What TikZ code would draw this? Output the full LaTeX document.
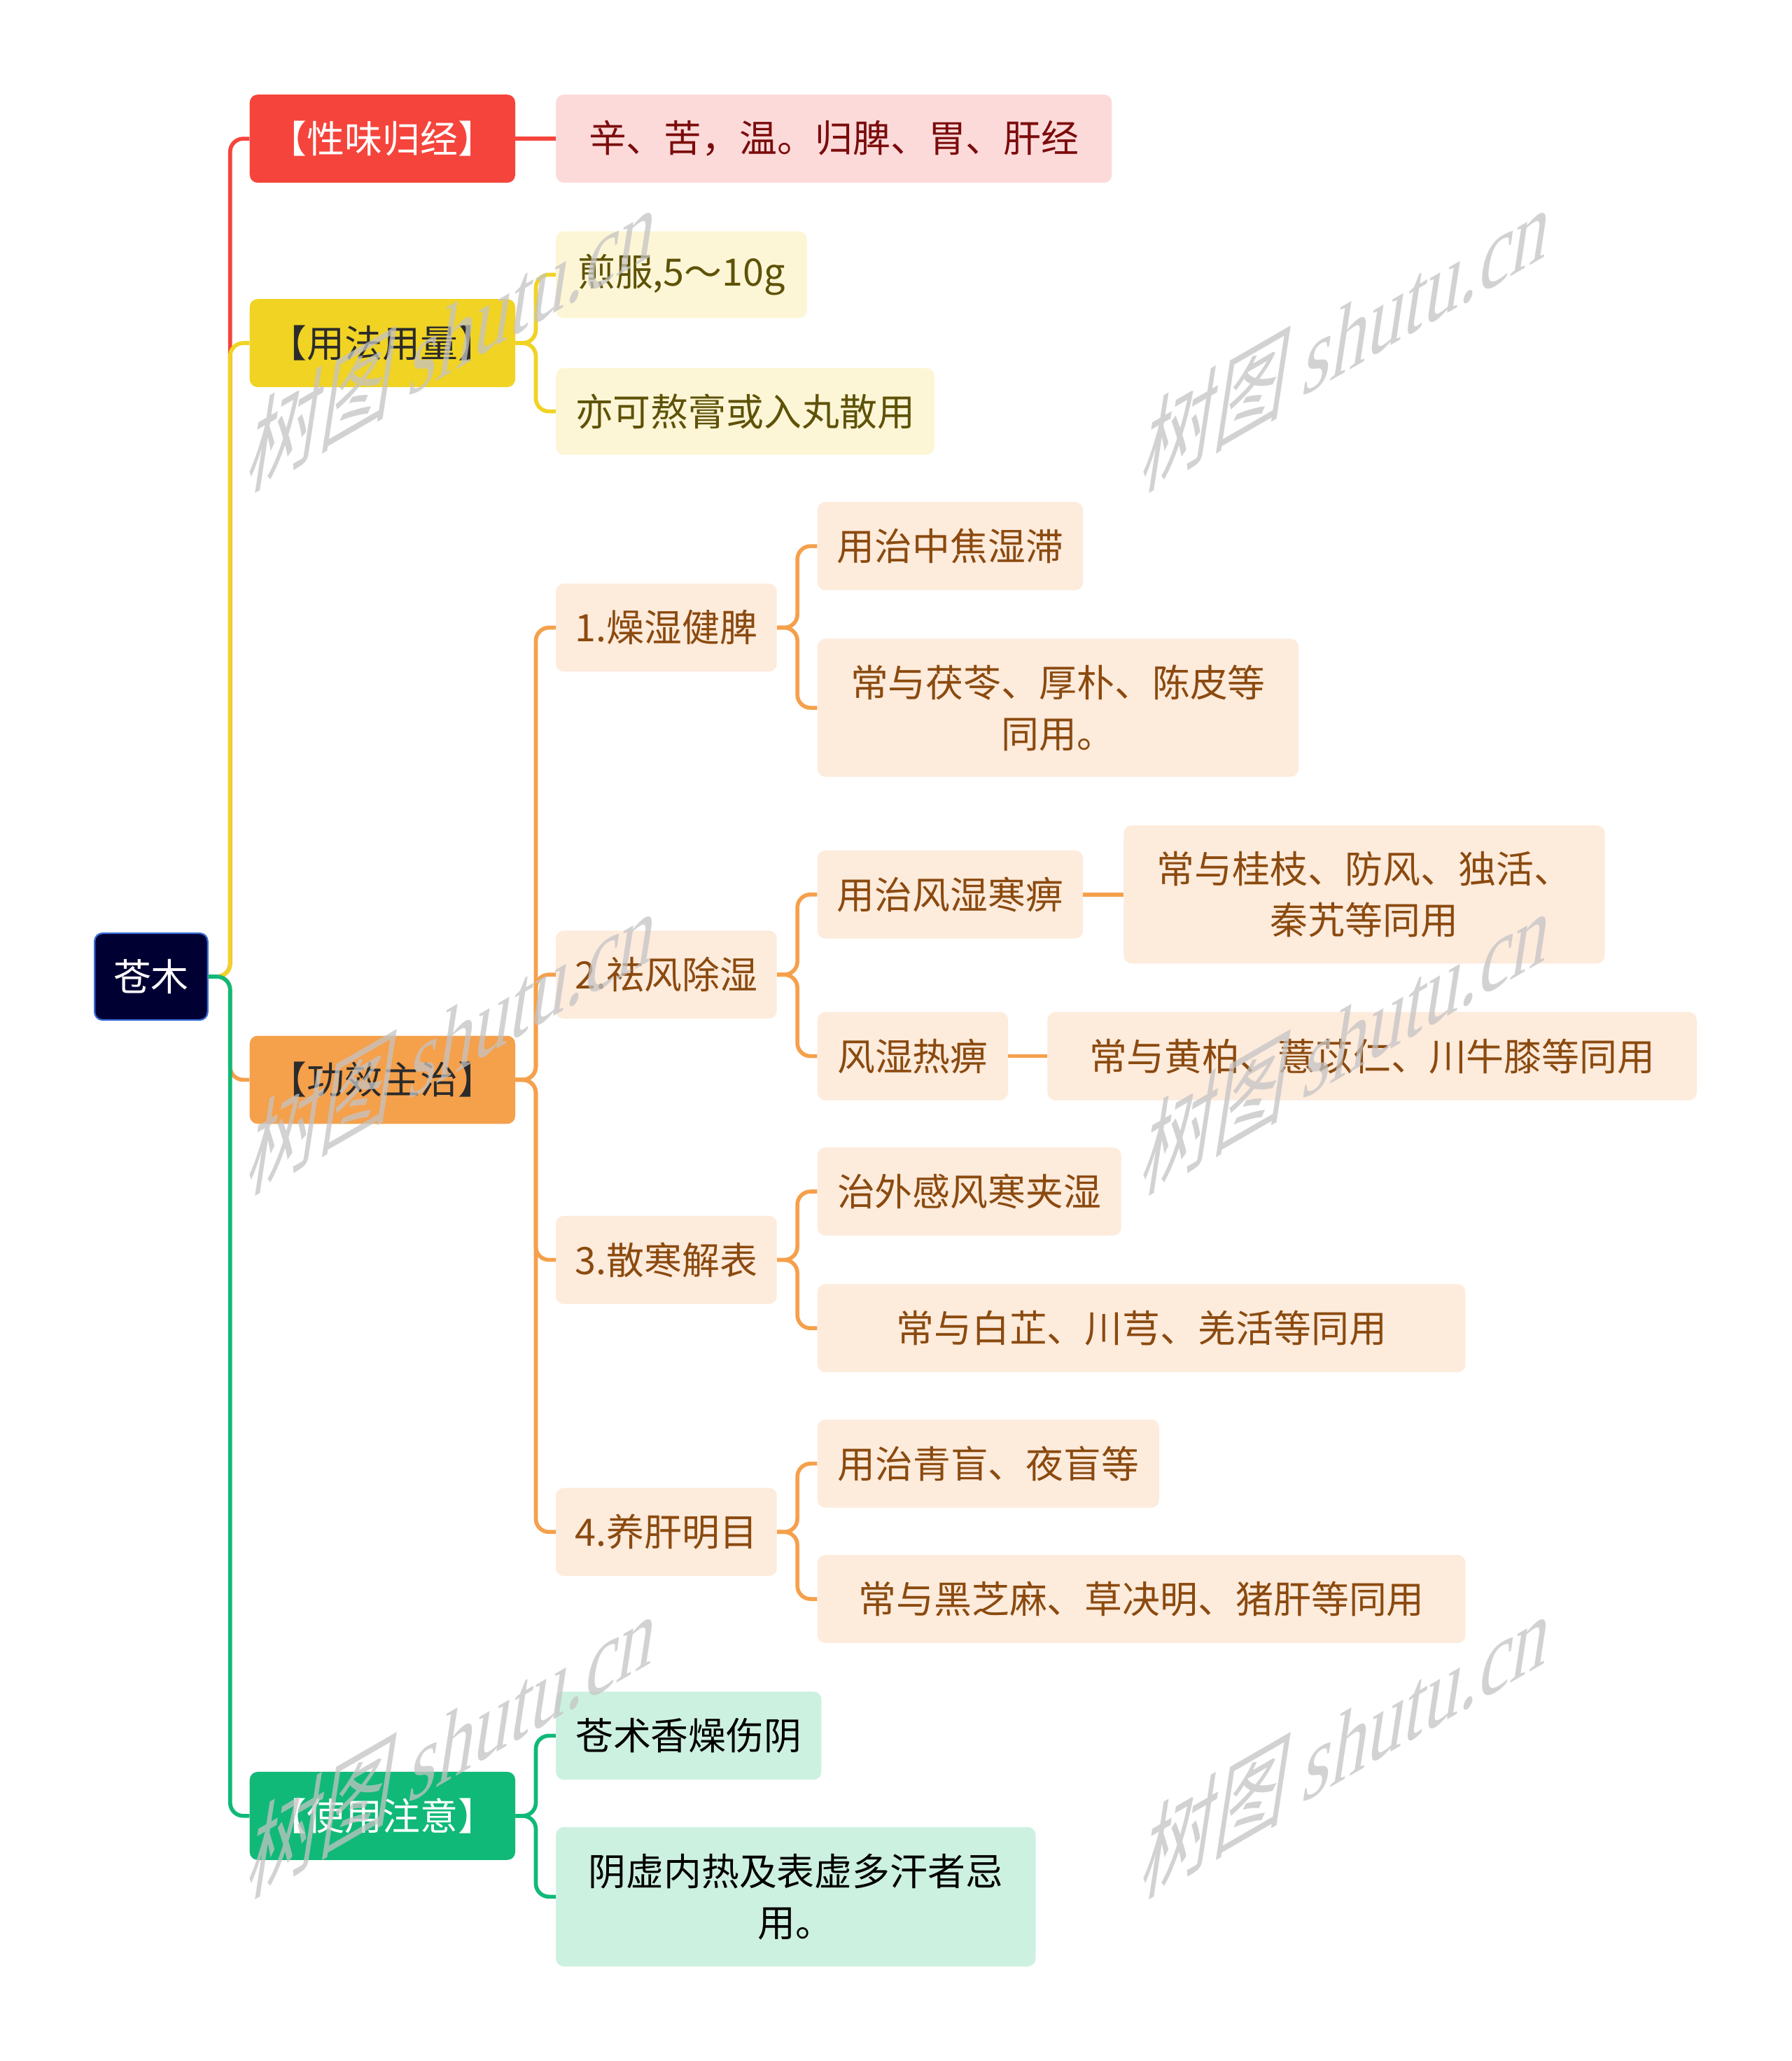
\documentclass[tikz,border=0pt]{standalone}
\usepackage{fontspec}
\setmainfont{Noto Sans CJK SC}
\newfontfamily\wmserif{Liberation Serif}
\definecolor{cred}{HTML}{F5443C}
\definecolor{cyel}{HTML}{F0D323}
\definecolor{corg}{HTML}{F5A04B}
\definecolor{cgrn}{HTML}{10B978}
\definecolor{fred}{HTML}{FDDADA}
\definecolor{fyel}{HTML}{FDF6D6}
\definecolor{forg}{HTML}{FDEBDC}
\definecolor{fgrn}{HTML}{CDF1E1}
\definecolor{tred}{HTML}{7B0C0C}
\definecolor{tyel}{HTML}{5E5208}
\definecolor{torg}{HTML}{8B4A0F}
\definecolor{tdark}{HTML}{2B2B2B}
\definecolor{rootfill}{HTML}{000033}
\definecolor{rootline}{HTML}{3A6FD8}
\definecolor{wmgray}{HTML}{C4C4C4}
\begin{document}
\begin{tikzpicture}[x=1pt,y=-1pt,
  nd/.style={rounded corners=6pt, inner sep=0pt, align=center,
    font=\fontsize{28.7}{39}\selectfont},
  conn/.style={line width=3pt, rounded corners=10pt},
  wm/.style={anchor=base west, inner sep=0pt, rotate=30, xslant=0.8,
    transform shape, text=wmgray, text opacity=0.75,
    font=\fontsize{64}{64}\selectfont}]
\fill[white] (0,0) rectangle (1363,1568);
\useasboundingbox (0,0) rectangle (1363,1568);

% root
\node[nd, fill=rootfill, draw=rootline, line width=1.2pt, text=white,
  minimum width=86pt, minimum height=66pt] (root) at (115,743) {苍木};

% level 1
\node[nd, fill=cred, text=white, minimum width=202pt, minimum height=67pt] (a) at (291,105.5) {【性味归经】};
\node[nd, fill=cyel, text=tdark, minimum width=202pt, minimum height=67pt] (b) at (291,261) {【用法用量】};
\node[nd, fill=corg, text=tdark, minimum width=202pt, minimum height=67pt] (c) at (291,821.5) {【功效主治】};
\node[nd, fill=cgrn, text=white, minimum width=202pt, minimum height=67pt] (d) at (291,1381.5) {【使用注意】};

% level 2
\node[nd, fill=fred, text=tred, minimum width=423pt, minimum height=67pt] (a1) at (634.5,105.5) {辛、苦，温。归脾、胃、肝经};
\node[nd, fill=fyel, text=tyel, minimum width=191pt, minimum height=66pt] (b1) at (518.5,209) {煎服,5～10g};
\node[nd, fill=fyel, text=tyel, minimum width=288pt, minimum height=66pt] (b2) at (567,313) {亦可熬膏或入丸散用};
\node[nd, fill=forg, text=torg, minimum width=168pt, minimum height=67pt] (c1) at (507,477.5) {1.燥湿健脾};
\node[nd, fill=forg, text=torg, minimum width=168pt, minimum height=67pt] (c2) at (507,741.5) {2.祛风除湿};
\node[nd, fill=forg, text=torg, minimum width=168pt, minimum height=67pt] (c3) at (507,958.5) {3.散寒解表};
\node[nd, fill=forg, text=torg, minimum width=168pt, minimum height=67pt] (c4) at (507,1165.5) {4.养肝明目};
\node[nd, fill=fgrn, text=black, minimum width=202pt, minimum height=67pt] (d1) at (524,1320.5) {苍术香燥伤阴};
\node[nd, fill=fgrn, text=black, minimum width=365pt, minimum height=106pt] (d2) at (605.5,1443) {阴虚内热及表虚多汗者忌\\用。};

% level 3
\node[nd, fill=forg, text=torg, minimum width=202pt, minimum height=67pt] (c11) at (723,415.5) {用治中焦湿滞};
\node[nd, fill=forg, text=torg, minimum width=366pt, minimum height=105pt] (c12) at (805,538.5) {常与茯苓、厚朴、陈皮等\\同用。};
\node[nd, fill=forg, text=torg, minimum width=202pt, minimum height=67pt] (c21) at (723,680.5) {用治风湿寒痹};
\node[nd, fill=forg, text=torg, minimum width=145pt, minimum height=67pt] (c22) at (694.5,803.5) {风湿热痹};
\node[nd, fill=forg, text=torg, minimum width=231pt, minimum height=67pt] (c31) at (737.5,906.5) {治外感风寒夹湿};
\node[nd, fill=forg, text=torg, minimum width=493pt, minimum height=67pt] (c32) at (868.5,1010.5) {常与白芷、川芎、羌活等同用};
\node[nd, fill=forg, text=torg, minimum width=260pt, minimum height=67pt] (c41) at (752,1113.5) {用治青盲、夜盲等};
\node[nd, fill=forg, text=torg, minimum width=493pt, minimum height=67pt] (c42) at (868.5,1216.5) {常与黑芝麻、草决明、猪肝等同用};

% level 4
\node[nd, fill=forg, text=torg, minimum width=366pt, minimum height=105pt] (c211) at (1038,680.5) {常与桂枝、防风、独活、\\秦艽等同用};
\node[nd, fill=forg, text=torg, minimum width=494pt, minimum height=67pt] (c221) at (1044,803.5) {常与黄柏、薏苡仁、川牛膝等同用};

% connectors root -> level 1
\draw[conn, cred] (root.east) -- ++(16.5,0) |- (a.west);
\draw[conn, cyel] (root.east) -- ++(16.5,0) |- (b.west);
\draw[conn, corg] (root.east) -- ++(16.5,0) |- (c.west);
\draw[conn, cgrn] (root.east) -- ++(16.5,0) |- (d.west);

% level 1 -> level 2
\draw[conn, cred] (a.east) -- (a1.west);
\draw[conn, cyel] (b.east) -- ++(15.5,0) |- (b1.west);
\draw[conn, cyel] (b.east) -- ++(15.5,0) |- (b2.west);
\foreach \k in {c1,c2,c3,c4}
  \draw[conn, corg] (c.east) -- ++(15.5,0) |- (\k.west);
\draw[conn, cgrn] (d.east) -- ++(15.5,0) |- (d1.west);
\draw[conn, cgrn] (d.east) -- ++(15.5,0) |- (d2.west);

% level 2 -> level 3
\draw[conn, corg] (c1.east) -- ++(15.5,0) |- (c11.west);
\draw[conn, corg] (c1.east) -- ++(15.5,0) |- (c12.west);
\draw[conn, corg] (c2.east) -- ++(15.5,0) |- (c21.west);
\draw[conn, corg] (c2.east) -- ++(15.5,0) |- (c22.west);
\draw[conn, corg] (c3.east) -- ++(15.5,0) |- (c31.west);
\draw[conn, corg] (c3.east) -- ++(15.5,0) |- (c32.west);
\draw[conn, corg] (c4.east) -- ++(15.5,0) |- (c41.west);
\draw[conn, corg] (c4.east) -- ++(15.5,0) |- (c42.west);

% level 3 -> level 4
\draw[conn, corg] (c21.east) -- (c211.west);
\draw[conn, corg] (c22.east) -- (c221.west);

% watermarks
\node[wm] (wm1) at (186,374) {树图 {\wmserif shutu.cn}};
\node[wm] (wm2) at (866,374) {树图 {\wmserif shutu.cn}};
\node[wm] (wm3) at (186,909) {树图 {\wmserif shutu.cn}};
\node[wm] (wm4) at (866,909) {树图 {\wmserif shutu.cn}};
\node[wm] (wm5) at (186,1444) {树图 {\wmserif shutu.cn}};
\node[wm] (wm6) at (866,1444) {树图 {\wmserif shutu.cn}};
\end{tikzpicture}
\end{document}
